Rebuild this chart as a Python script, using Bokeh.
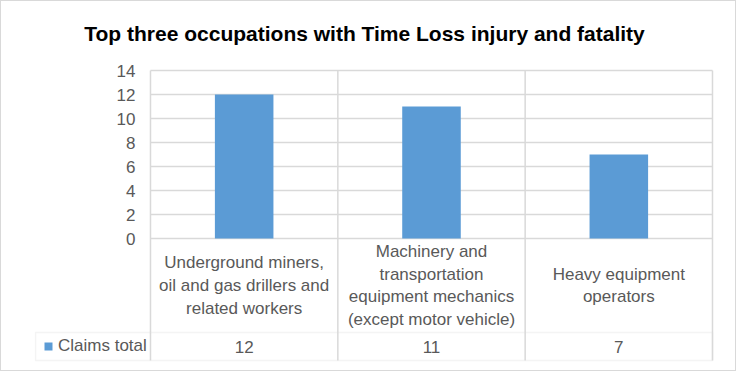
import numpy as np
from bokeh.plotting import figure
from bokeh.layouts import column
from bokeh.models import Range1d, FixedTicker, ColumnDataSource, BoxAnnotation, Legend, LegendItem
from bokeh.core.properties import value
from bokeh.embed import file_html
from bokeh.resources import INLINE

# ---- data ----
categories = [
    "Underground miners,\noil and gas drillers and\nrelated workers",
    "Machinery and\ntransportation\nequipment mechanics\n(except motor vehicle)",
    "Heavy equipment\noperators",
]
claims_total = [12, 11, 7]
series_name = "Claims total"
y_ticks = [0, 2, 4, 6, 8, 10, 12, 14]
title_text = "Top three occupations  with Time Loss injury and fatality"

FONT = "Liberation Sans"
GRID = "#d9d9d9"
BAR = "#5b9bd5"
TXT = "#595959"

n = len(categories)
xc = np.arange(n) + 0.5
y_max = y_ticks[-1]

# layout of the data table below the axis (in axis units)
table_left = -0.614
row_split = -7.833
table_bottom = -10.167
title_y = 17.12
title_x = 1.158

p = figure(width=734, height=369, x_range=Range1d(-0.6192, 3.0107), y_range=Range1d(-10.333, 18.917),
           output_backend="svg", toolbar_location=None,
           min_border_left=33, min_border_right=21, min_border_top=10, min_border_bottom=8)
p.outline_line_color = None
p.xaxis.visible = False
p.grid.visible = False
p.yaxis.fixed_location = 0
p.yaxis.ticker = FixedTicker(ticks=y_ticks)
p.yaxis.axis_line_color = None
p.yaxis.major_tick_line_color = None
p.yaxis.minor_tick_line_color = None
p.yaxis.major_tick_out = 0
p.yaxis.major_tick_in = 0
p.yaxis.major_label_text_font = FONT
p.yaxis.major_label_text_font_size = "17px"
p.yaxis.major_label_text_color = TXT
p.yaxis.major_label_standoff = 15

# horizontal gridlines (value axis) and vertical category / table lines
p.segment(x0=[0] * len(y_ticks), y0=y_ticks, x1=[n] * len(y_ticks), y1=y_ticks,
          line_color=GRID, line_width=1.5)
p.segment(x0=list(range(n + 1)), y0=[table_bottom] * (n + 1), x1=list(range(n + 1)), y1=[y_max] * (n + 1),
          line_color=GRID, line_width=1.5)

src = ColumnDataSource(dict(x=xc, top=claims_total))
bars = p.vbar(x="x", top="top", width=0.3125, bottom=0, source=src, fill_color=BAR, line_color=None)

# data table: value row box
p.add_layout(BoxAnnotation(left=table_left, right=n, top=row_split, bottom=table_bottom,
                           fill_color=None, fill_alpha=0, line_color=GRID, line_width=1.5))

# category labels
p.text(x=xc, y=[row_split / 2] * n, text=categories, text_align="center", text_baseline="middle",
       text_font=value(FONT), text_font_size="17px", text_color=TXT, text_line_height=1.2)
# values
p.text(x=xc, y=[(row_split + table_bottom) / 2] * n, text=[str(v) for v in claims_total],
       text_align="center", text_baseline="middle", text_font=value(FONT), text_font_size="17px",
       text_color=TXT)

# chart title
p.text(x=[title_x], y=[title_y], text=[title_text], text_align="center", text_baseline="middle",
       text_font=value(FONT), text_font_size="21px", text_font_style="bold", text_color="#000000")

legend = Legend(items=[LegendItem(label=series_name, renderers=[bars])], location=(9, 6),
                glyph_width=10, glyph_height=10, label_height=18, label_standoff=5, padding=0,
                margin=0, spacing=0, border_line_color=None, background_fill_alpha=0,
                label_text_font=FONT, label_text_font_size="17px", label_text_color=TXT)
p.add_layout(legend, "center")

layout = column(p, styles={"border": "1px solid #d9d9d9"})
open("out.html", "w").write(file_html(layout, INLINE))
